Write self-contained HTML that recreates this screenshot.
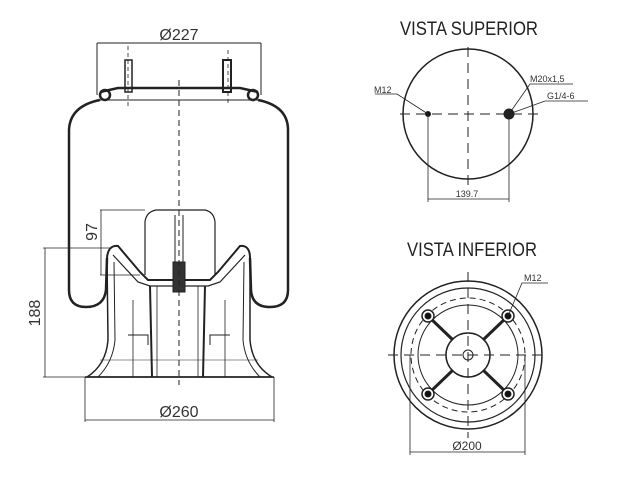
<!DOCTYPE html>
<html><head><meta charset="utf-8"><style>
html,body{margin:0;padding:0;background:#fff}
svg{display:block}
text{font-family:"Liberation Sans",sans-serif;fill:#333}
</style></head><body>
<svg width="640" height="480" viewBox="0 0 640 480" xmlns="http://www.w3.org/2000/svg">
<rect width="640" height="480" fill="#fff"/>
<g fill="none" stroke="#222">
<line x1="97" y1="43" x2="261" y2="43" stroke-width="1"/>
<line x1="97" y1="43" x2="97" y2="95" stroke-width="1"/>
<line x1="261" y1="43" x2="261" y2="95" stroke-width="1"/>
<rect x="125" y="60" width="7" height="32" stroke-width="1.5"/>
<rect x="223" y="60" width="8" height="32" stroke-width="2"/>
<line x1="128" y1="46" x2="128" y2="106" stroke-dasharray="4,3" stroke-width="0.8"/>
<line x1="228" y1="50" x2="228" y2="106" stroke-dasharray="4,3" stroke-width="0.8"/>
<path d="M100 92 L118 88 L240 88 L258 92" stroke-width="2.5"/>
<line x1="100" y1="100" x2="258" y2="100" stroke-width="1"/>
<circle cx="105" cy="95" r="5" stroke-width="2.5"/>
<circle cx="253" cy="95" r="5" stroke-width="2.5"/>
<path d="M100 100 Q70 106 69 130 L69 290 Q69 307 86 307 Q104 307 106 290 L107 258" stroke-width="2.5"/>
<path d="M258 100 Q288 106 288 130 L288 290 Q288 307 270 307 Q252 307 251 290 L250 258" stroke-width="2.5"/>
<path d="M107 258 Q108 245 118 246 L140 272 L148 280 L210 280 L218 272 L240 246 Q250 245 250 258" stroke-width="2"/>
<path d="M113 255 L138 282 L150 286 L208 286 L220 282 L245 255" stroke-width="1.2"/>
<path d="M107 258 L108 340 Q106 365 87 377 L272 377 Q252 365 250 340 L250 258" stroke-width="1.5"/>
<path d="M114 262 L115 340 Q113 362 98 377" stroke-width="1"/>
<path d="M244 262 L243 340 Q245 362 260 377" stroke-width="1"/>
<line x1="85" y1="377" x2="274" y2="377" stroke-width="1.5"/>
<line x1="150" y1="286" x2="152" y2="377" stroke-width="2"/>
<line x1="205" y1="286" x2="203" y2="377" stroke-width="2"/>
<line x1="157" y1="286" x2="157" y2="377" stroke-width="0.8"/>
<line x1="198" y1="286" x2="198" y2="377" stroke-width="0.8"/>
<line x1="133" y1="300" x2="133" y2="377" stroke-width="0.8"/>
<line x1="225" y1="300" x2="225" y2="377" stroke-width="0.8"/>
<path d="M128 335 L148 335 L148 345 M230 335 L210 335 L210 345" stroke-width="1"/>
<line x1="100" y1="360" x2="258" y2="360" stroke-width="0.6"/>
<path d="M145 275 L145 222 Q146 212 156 210 L205 210 Q214 212 215 222 L215 275" stroke-width="1.2"/>
<rect x="173" y="262" width="12" height="30" fill="#333" stroke-width="1"/>
<line x1="175" y1="215" x2="175" y2="262" stroke-width="1"/>
<line x1="183" y1="215" x2="183" y2="262" stroke-width="1"/>
<line x1="179" y1="80" x2="179" y2="385" stroke-dasharray="6,4" stroke-width="1"/>
<line x1="100" y1="210" x2="145" y2="210" stroke-width="0.8"/>
<line x1="100" y1="275" x2="140" y2="275" stroke-width="0.8"/>
<line x1="101" y1="210" x2="101" y2="275" stroke-width="0.8"/>
<line x1="43" y1="248" x2="112" y2="248" stroke-width="0.8"/>
<line x1="43" y1="377" x2="87" y2="377" stroke-width="0.8"/>
<line x1="45" y1="248" x2="45" y2="377" stroke-width="0.8"/>
<line x1="85" y1="377" x2="85" y2="422" stroke-width="0.8"/>
<line x1="274" y1="377" x2="274" y2="422" stroke-width="0.8"/>
<line x1="85" y1="420" x2="274" y2="420" stroke-width="0.8"/>

<circle cx="468" cy="114" r="65" stroke-width="1.5"/>
<line x1="400" y1="114" x2="540" y2="114" stroke-dasharray="10,6" stroke-width="1"/>
<line x1="468" y1="47" x2="468" y2="185" stroke-dasharray="10,6" stroke-width="1"/>
<circle cx="428" cy="114" r="2.5" fill="#111"/>
<circle cx="509" cy="114" r="5" fill="#222" stroke-width="1"/>
<line x1="428" y1="114" x2="428" y2="202" stroke-width="0.8"/>
<line x1="509" y1="114" x2="509" y2="202" stroke-width="0.8"/>
<line x1="428" y1="199" x2="509" y2="199" stroke-width="0.8"/>
<path d="M375 94 L397 94 L428 114" stroke-width="0.8"/>
<path d="M509 114 L530 84 L573 84" stroke-width="0.8"/>
<path d="M509 114 L545 101 L588 101" stroke-width="0.8"/>

<circle cx="468" cy="355" r="74" stroke-width="1.5"/>
<circle cx="468" cy="355" r="67" stroke-width="1.2"/>
<circle cx="468" cy="355" r="50" stroke-width="1"/>
<circle cx="468" cy="355" r="57" stroke-dasharray="6,4" stroke-width="1"/>
<circle cx="468" cy="355" r="22" stroke-width="1.5"/>
<circle cx="468" cy="355" r="5" stroke-width="1"/>
<line x1="388" y1="355" x2="548" y2="355" stroke-dasharray="10,6" stroke-width="1"/>
<line x1="468" y1="272" x2="468" y2="438" stroke-dasharray="10,6" stroke-width="1"/>
<path d="M428 316 L453 340 M508 316 L483 340 M428 394 L453 370 M508 394 L483 370" stroke-width="3"/>
<circle cx="428" cy="316" r="6" fill="#fff" stroke-width="1.5"/><circle cx="428" cy="316" r="3" fill="#111"/>
<circle cx="508" cy="316" r="6" fill="#fff" stroke-width="1.5"/><circle cx="508" cy="316" r="3" fill="#111"/>
<circle cx="428" cy="394" r="6" fill="#fff" stroke-width="1.5"/><circle cx="428" cy="394" r="3" fill="#111"/>
<circle cx="508" cy="394" r="6" fill="#fff" stroke-width="1.5"/><circle cx="508" cy="394" r="3" fill="#111"/>
<path d="M508 316 L522 283 L548 283" stroke-width="0.8"/>
<line x1="410" y1="355" x2="410" y2="455" stroke-width="0.8"/>
<line x1="525" y1="355" x2="525" y2="455" stroke-width="0.8"/>
<line x1="410" y1="452" x2="525" y2="452" stroke-width="0.8"/>
</g>
<text x="179" y="40" font-size="16" text-anchor="middle">Ø227</text>
<text x="179" y="417" font-size="16" text-anchor="middle">Ø260</text>
<text x="40" y="313" font-size="16" text-anchor="middle" transform="rotate(-90 40 313)">188</text>
<text x="97" y="232" font-size="16" text-anchor="middle" transform="rotate(-90 97 232)">97</text>
<text x="469" y="35" font-size="19" text-anchor="middle" textLength="138" lengthAdjust="spacingAndGlyphs" style="fill:#222">VISTA SUPERIOR</text>
<text x="472" y="256" font-size="19" text-anchor="middle" textLength="130" lengthAdjust="spacingAndGlyphs" style="fill:#222">VISTA INFERIOR</text>
<text x="374" y="93" font-size="9">M12</text>
<text x="530" y="82" font-size="9">M20x1,5</text>
<text x="547" y="99" font-size="9">G1/4-6</text>
<text x="467" y="197" font-size="9" text-anchor="middle">139.7</text>
<text x="524" y="281" font-size="9">M12</text>
<text x="467" y="450" font-size="12" text-anchor="middle">Ø200</text>
</svg>
</body></html>
